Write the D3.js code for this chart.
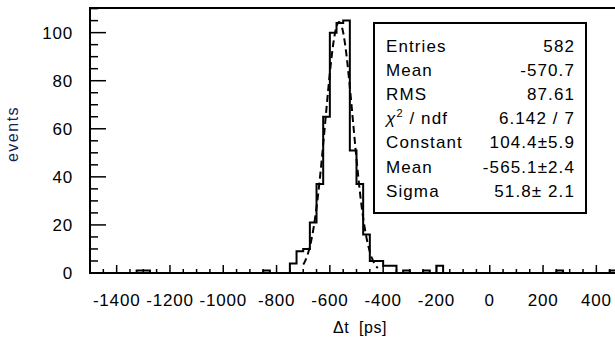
<!DOCTYPE html>
<html lang="en">
<head>
<meta charset="UTF-8">
<title>dt</title>
<script src="https://d3js.org/d3.v7.min.js"></script>
<style>
  body { margin: 0; background: #fff; }
  text { font-family: "Liberation Sans", Arial, sans-serif; fill: #000; white-space: pre; }
</style>
</head>
<body>
<script>
// histogram: 25 ps bins from -1500 to 500, only non-empty bins listed
const binWidth = 25;
const binLow = [-1325, -1300, -850, -750, -725, -700, -675, -650, -625, -600, -575, -550,
                -525, -500, -475, -450, -425, -400, -375, -325, -250, -200, 250, 450];
const binCounts = [1, 1, 1, 4, 9, 10, 21, 37, 65, 100, 104, 105,
                   51, 37, 16, 5, 5, 3, 3, 1, 1, 3, 1, 1];

// gaussian fit
const fitConst = 104.4, fitMean = -565.1, fitSigma = 51.8;
const fitRange = [-700, -420];

const xTickLabels = [-1400, -1200, -1000, -800, -600, -400, -200, 0, 200, 400];
const yTickLabels = [0, 20, 40, 60, 80, 100];

const statNames = ['Entries', 'Mean', 'RMS', 'chi', 'Constant', 'Mean', 'Sigma'];
const statValues = ['582', '-570.7', '87.61', '6.142 / 7', '104.4\u00b15.9', '-565.1\u00b12.4', '51.8\u00b1 2.1'];

const W = 615, H = 342;
const svg = d3.select('body').append('svg').attr('width', W).attr('height', H);

const x = d3.scaleLinear().domain([-1500, 500]).range([90, 623]);
const y = d3.scaleLinear().domain([0, 110.25]).range([273, 8]);

// full bin list
const counts = d3.range(80).map(() => 0);
binLow.forEach((b, i) => { counts[Math.round((b + 1500) / binWidth)] = binCounts[i]; });

// step path
let pts = [[-1500, 0]];
counts.forEach((c, i) => {
  const lo = -1500 + i * binWidth;
  pts.push([lo, c], [lo + binWidth, c]);
});
pts.push([500, 0]);
svg.append('path')
  .attr('d', d3.line().x(d => x(d[0])).y(d => y(d[1]))(pts))
  .attr('fill', 'none').attr('stroke', '#000').attr('stroke-width', 2);

// fit curve
const fx = d3.range(fitRange[0], fitRange[1] + 1, 2);
svg.append('path')
  .attr('d', d3.line().x(d => x(d)).y(d => y(fitConst * Math.exp(-0.5 * ((d - fitMean) / fitSigma) ** 2)))(fx))
  .attr('fill', 'none').attr('stroke', '#000').attr('stroke-width', 2)
  .attr('stroke-dasharray', '7,4');

// frame
svg.append('rect').attr('x', 90).attr('y', 8).attr('width', 533).attr('height', 265)
  .attr('fill', 'none').attr('stroke', '#000').attr('stroke-width', 2);

// x ticks
svg.append('g').selectAll('line').data(d3.range(-1500, 501, 50)).join('line')
  .attr('x1', d => x(d)).attr('x2', d => x(d))
  .attr('y1', 273).attr('y2', d => d % 200 === 0 ? 265 : 269)
  .attr('stroke', '#000').attr('stroke-width', 1.5);
svg.append('g').attr('font-size', 17).attr('letter-spacing', 0.8)
  .selectAll('text').data(xTickLabels).join('text')
  .attr('x', d => x(d)).attr('y', 306).attr('text-anchor', 'middle')
  .text(d => d);

// y ticks
svg.append('g').selectAll('line').data(d3.range(0, 111, 5)).join('line')
  .attr('y1', d => y(d)).attr('y2', d => y(d))
  .attr('x1', 90).attr('x2', d => d % 20 === 0 ? 106 : 98)
  .attr('stroke', '#000').attr('stroke-width', 1.5);
svg.append('g').attr('font-size', 17).attr('letter-spacing', 0.8)
  .selectAll('text').data(yTickLabels).join('text')
  .attr('x', 73).attr('y', d => y(d) + 6).attr('text-anchor', 'end')
  .text(d => d);

// axis titles
svg.append('text').attr('transform', 'translate(18,134) rotate(-90)')
  .attr('text-anchor', 'middle').attr('font-size', 16).attr('letter-spacing', 1.5)
  .style('fill', '#1c1c55').text('events');
svg.append('text').attr('x', 360).attr('y', 333).attr('text-anchor', 'middle')
  .attr('font-size', 16).attr('letter-spacing', 0.5).text('\u0394t  [ps]');

// stats box
svg.append('rect').attr('x', 374).attr('y', 23).attr('width', 212).attr('height', 190)
  .attr('fill', '#fff').attr('stroke', '#000').attr('stroke-width', 2);
const rows = svg.append('g').attr('font-size', 17).attr('letter-spacing', 1.1);
statNames.forEach((n, i) => {
  const t = rows.append('text').attr('x', 386).attr('y', 52 + i * 24.1);
  if (n === 'chi') {
    t.append('tspan').attr('font-style', 'italic').text('\u03c7');
    t.append('tspan').attr('font-size', 11).attr('dy', -7).text('2');
    t.append('tspan').attr('dy', 7).text(' / ndf');
  } else {
    t.text(n);
  }
  rows.append('text').attr('x', 575).attr('y', 52 + i * 24.1)
    .attr('text-anchor', 'end').text(statValues[i]);
});
</script>
</body>
</html>
